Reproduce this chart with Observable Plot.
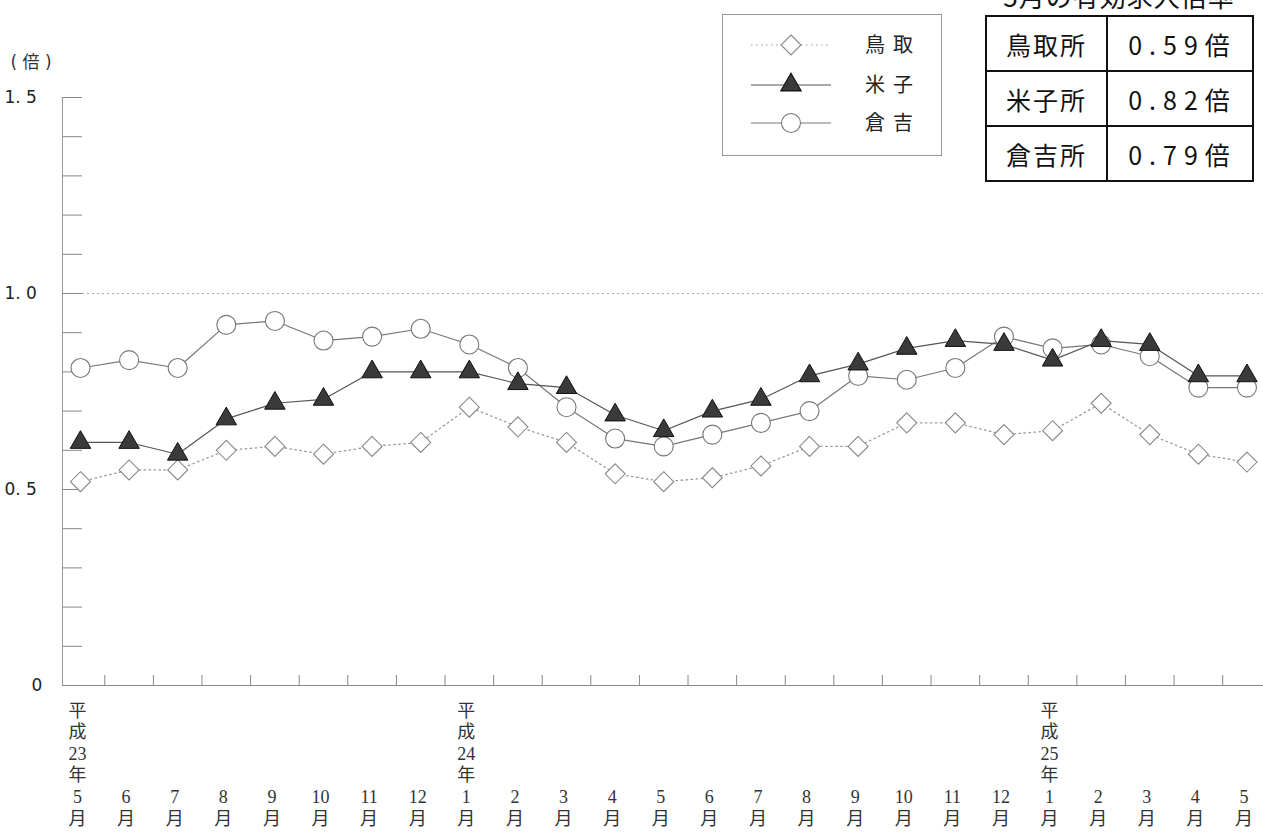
<!DOCTYPE html>
<html><head><meta charset="utf-8">
<script src="https://cdn.jsdelivr.net/npm/d3@7"></script>
<script src="https://cdn.jsdelivr.net/npm/@observablehq/plot@0.6"></script>
<style>
body{margin:0;background:#fff;}
#wrap{position:relative;width:1263px;height:832px;overflow:hidden;background:#fff;}
#legend{position:absolute;left:722px;top:14px;width:220px;height:142px;border:1px solid #999;background:#fff;box-sizing:border-box;}
#ttl{position:absolute;left:985px;width:268px;top:-17px;text-align:center;font:26px "Noto Sans CJK JP",sans-serif;line-height:26px;letter-spacing:1px;color:#111;}
#tbl{position:absolute;left:985px;top:15px;border-collapse:collapse;background:#fff;font-family:"Noto Sans CJK JP",sans-serif;color:#111;}
#tbl td{border:2px solid #111;height:53px;padding:0;text-align:center;font-size:25px;}
#tbl td.n{width:119px;letter-spacing:2px;}
#tbl td.v{width:139px;letter-spacing:7px;padding-left:5px;}
</style></head>
<body><div id="wrap"></div>
<script>
// ---- data ----
const months = ["5","6","7","8","9","10","11","12","1","2","3","4","5","6","7","8","9","10","11","12","1","2","3","4","5"];
const eraLabels = ["平\n成\n23\n年","","","","","","","","平\n成\n24\n年","","","","","","","","","","","","平\n成\n25\n年","","","",""];
const seriesNames = ["鳥取","米子","倉吉"];
const tottori   = [0.52,0.55,0.55,0.60,0.61,0.59,0.61,0.62,0.71,0.66,0.62,0.54,0.52,0.53,0.56,0.61,0.61,0.67,0.67,0.64,0.65,0.72,0.64,0.59,0.57];
const yonago    = [0.62,0.62,0.59,0.68,0.72,0.73,0.80,0.80,0.80,0.77,0.76,0.69,0.65,0.70,0.73,0.79,0.82,0.86,0.88,0.87,0.83,0.88,0.87,0.79,0.79];
const kurayoshi = [0.81,0.83,0.81,0.92,0.93,0.88,0.89,0.91,0.87,0.81,0.71,0.63,0.61,0.64,0.67,0.70,0.79,0.78,0.81,0.89,0.86,0.87,0.84,0.76,0.76];
const yLabelTicks = [0.5, 1.0, 1.5];
const yZeroTick = [0];
const yMinorTicks = [0.1,0.2,0.3,0.4,0.5,0.6,0.7,0.8,0.9,1.0,1.1,1.2,1.3,1.4,1.5];
const tableNames = ["鳥取所","米子所","倉吉所"];
const tableValues = ["0.59倍","0.82倍","0.79倍"];
const tableTitle = "5月の有効求人倍率";
const yUnit = "( 倍 )";

const idx = d3.range(months.length);
const toRows = arr => arr.map((v,i)=>({i, v}));
const serif = "'Liberation Serif','Noto Sans CJK JP',serif";
const sans = "'DejaVu Sans','Noto Sans CJK JP',sans-serif";

const st = {
  tottori: {line:"#9a9a9a", dash:"1.5,3.5", sym:"diamond2", r:9, fill:"#fff", stroke:"#888"},
  yonago:  {line:"#555", dash:null, sym:"triangle", r:7.6, fill:"#3a3a3a", stroke:"#111"},
  kura:    {line:"#777", dash:null, sym:"circle", r:9.5, fill:"#fff", stroke:"#777"}
};

const chart = Plot.plot({
  width: 1263, height: 832,
  marginLeft: 62, marginRight: 0, marginTop: 97, marginBottom: 147,
  x: {domain: [-0.37, 24.34], axis: null},
  y: {domain: [0, 1.5], axis: null},
  style: {background: "transparent", overflow: "visible"},
  marks: [
    Plot.frame({anchor: "left", stroke: "#999"}),
    Plot.ruleY([1], {stroke: "#aaa", strokeDasharray: "2,3"}),
    Plot.ruleY([0], {stroke: "#888"}),
    Plot.axisY({ticks: yMinorTicks, tickSize: 20, dx: 20, tickFormat: () => "", stroke: "#888", label: null}),
    Plot.axisX({ticks: d3.range(0.5, 24, 1), tickSize: 10, dy: -10, tickFormat: () => "", stroke: "#888", label: null}),
    Plot.axisY({ticks: yLabelTicks, tickSize: 0, tickPadding: 58, textAnchor: "start", tickFormat: d => d.toFixed(1).replace(".", ". "), fontSize: 17, fontFamily: sans, fill: "#222", label: null}),
    Plot.axisY({ticks: yZeroTick, tickSize: 0, tickPadding: 31, textAnchor: "start", tickFormat: d => String(d), fontSize: 17, fontFamily: sans, fill: "#222", label: null}),
    Plot.text([yUnit], {frameAnchor: "top-left", dx: -52, dy: -42, fontSize: 17, fontFamily: sans, fill: "#333", textAnchor: "start"}),
    Plot.text(idx, {x: d => d, text: i => (eraLabels[i] ? eraLabels[i] + "\n" : "") + months[i] + "\n月",
      frameAnchor: "bottom", lineAnchor: "bottom", dy: 139, dx: -3, fontSize: 18, lineHeight: 1.2, fontFamily: serif, fill: "#333"}),
    // 鳥取
    Plot.line(toRows(tottori), {x: "i", y: "v", stroke: st.tottori.line, strokeWidth: 1.3, strokeDasharray: st.tottori.dash}),
    Plot.dot(toRows(tottori), {x: "i", y: "v", symbol: st.tottori.sym, r: st.tottori.r, fill: st.tottori.fill, stroke: st.tottori.stroke, strokeWidth: 1.1}),
    // 倉吉
    Plot.line(toRows(kurayoshi), {x: "i", y: "v", stroke: st.kura.line, strokeWidth: 1.2}),
    Plot.dot(toRows(kurayoshi), {x: "i", y: "v", symbol: st.kura.sym, r: st.kura.r, fill: st.kura.fill, stroke: st.kura.stroke, strokeWidth: 1.1}),
    // 米子
    Plot.line(toRows(yonago), {x: "i", y: "v", stroke: st.yonago.line, strokeWidth: 1.2}),
    Plot.dot(toRows(yonago), {x: "i", y: "v", symbol: st.yonago.sym, r: st.yonago.r, fill: st.yonago.fill, stroke: st.yonago.stroke, strokeWidth: 1})
  ]
});
const wrap = document.getElementById("wrap");
wrap.appendChild(chart);

// legend
const leg = document.createElement("div");
leg.id = "legend";
const legItems = [st.tottori, st.yonago, st.kura];
const ys = [30, 70, 108];
let svg = '<svg width="220" height="142" xmlns="http://www.w3.org/2000/svg">';
legItems.forEach((s, k) => {
  const y = ys[k];
  svg += `<line x1="28" x2="108" y1="${y}" y2="${y}" stroke="${s.line}" stroke-width="1.2" ${s.dash ? `stroke-dasharray="${s.dash}"` : ""}/>`;
  const symMap = {diamond2: d3.symbolDiamond2, triangle: d3.symbolTriangle, circle: d3.symbolCircle};
  const p = d3.symbol(symMap[s.sym], Math.PI * s.r * s.r)();
  svg += `<path transform="translate(68,${y})" d="${p}" fill="${s.fill}" stroke="${s.stroke}" stroke-width="1.1"/>`;
  svg += `<text x="142" y="${y}" dy="0.35em" font-size="20" letter-spacing="8" font-family="'Noto Sans CJK JP',sans-serif" fill="#222">${seriesNames[k]}</text>`;
});
svg += '</svg>';
leg.innerHTML = svg;
wrap.appendChild(leg);

// table
const t = document.createElement("div");
t.id = "ttl"; t.textContent = tableTitle;
wrap.appendChild(t);
const tbl = document.createElement("table");
tbl.id = "tbl";
tableNames.forEach((n, k) => {
  const tr = document.createElement("tr");
  tr.innerHTML = `<td class="n">${n}</td><td class="v">${tableValues[k]}</td>`;
  tbl.appendChild(tr);
});
wrap.appendChild(tbl);
</script>
</body></html>
